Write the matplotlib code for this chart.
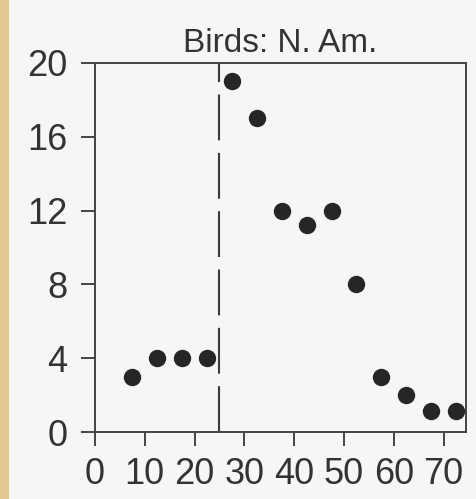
import matplotlib.pyplot as plt
from matplotlib.patches import Rectangle

# values
ages = [7.5, 12.5, 17.5, 22.5, 27.5, 32.5, 37.5, 42.5, 47.5, 52.5, 57.5, 62.5, 67.5, 72.5]
counts = [3, 4, 4, 4, 19, 17, 12, 11.2, 12, 8, 3, 2, 1.15, 1.15]
cut_age = 25
x_ticks = [0, 10, 20, 30, 40, 50, 60, 70]
y_ticks = [0, 4, 8, 12, 16, 20]
title = "Birds: N. Am."

paper = "#f6f6f4"

plt.rcParams["font.family"] = ["Liberation Sans", "DejaVu Sans"]

fig = plt.figure(figsize=(4.77, 4.99), dpi=100, facecolor=paper)
# beige page edge on the left of the scan
fig.patches.append(Rectangle((0, 0), 9 / 477, 1, transform=fig.transFigure,
                             facecolor="#e2c793", edgecolor="none", zorder=-1))

ax = fig.add_axes([0.199, 0.134, 0.778, 0.740])
ax.set_facecolor(paper)

ax.plot(ages, counts, "o", color="#262626", markersize=11.5, zorder=3)
ax.axvline(cut_age, color="#3a3a3a", linewidth=1.5, dashes=(22, 6))

ax.set_xlim(0, 74.5)
ax.set_ylim(0, 20)
ax.set_xticks(x_ticks)
ax.set_yticks(y_ticks)

for s in ax.spines.values():
    s.set_linewidth(1.4)
    s.set_color("#444444")

ax.tick_params(direction="out", length=10, width=1.4, color="#444444",
               labelsize=26, labelcolor="#333333")
ax.tick_params(axis="x", pad=8)
ax.tick_params(axis="y", pad=10)

ax.set_title(title, fontsize=24, color="#333333", pad=8)

fig.savefig("out.png", dpi=100, facecolor=paper)
